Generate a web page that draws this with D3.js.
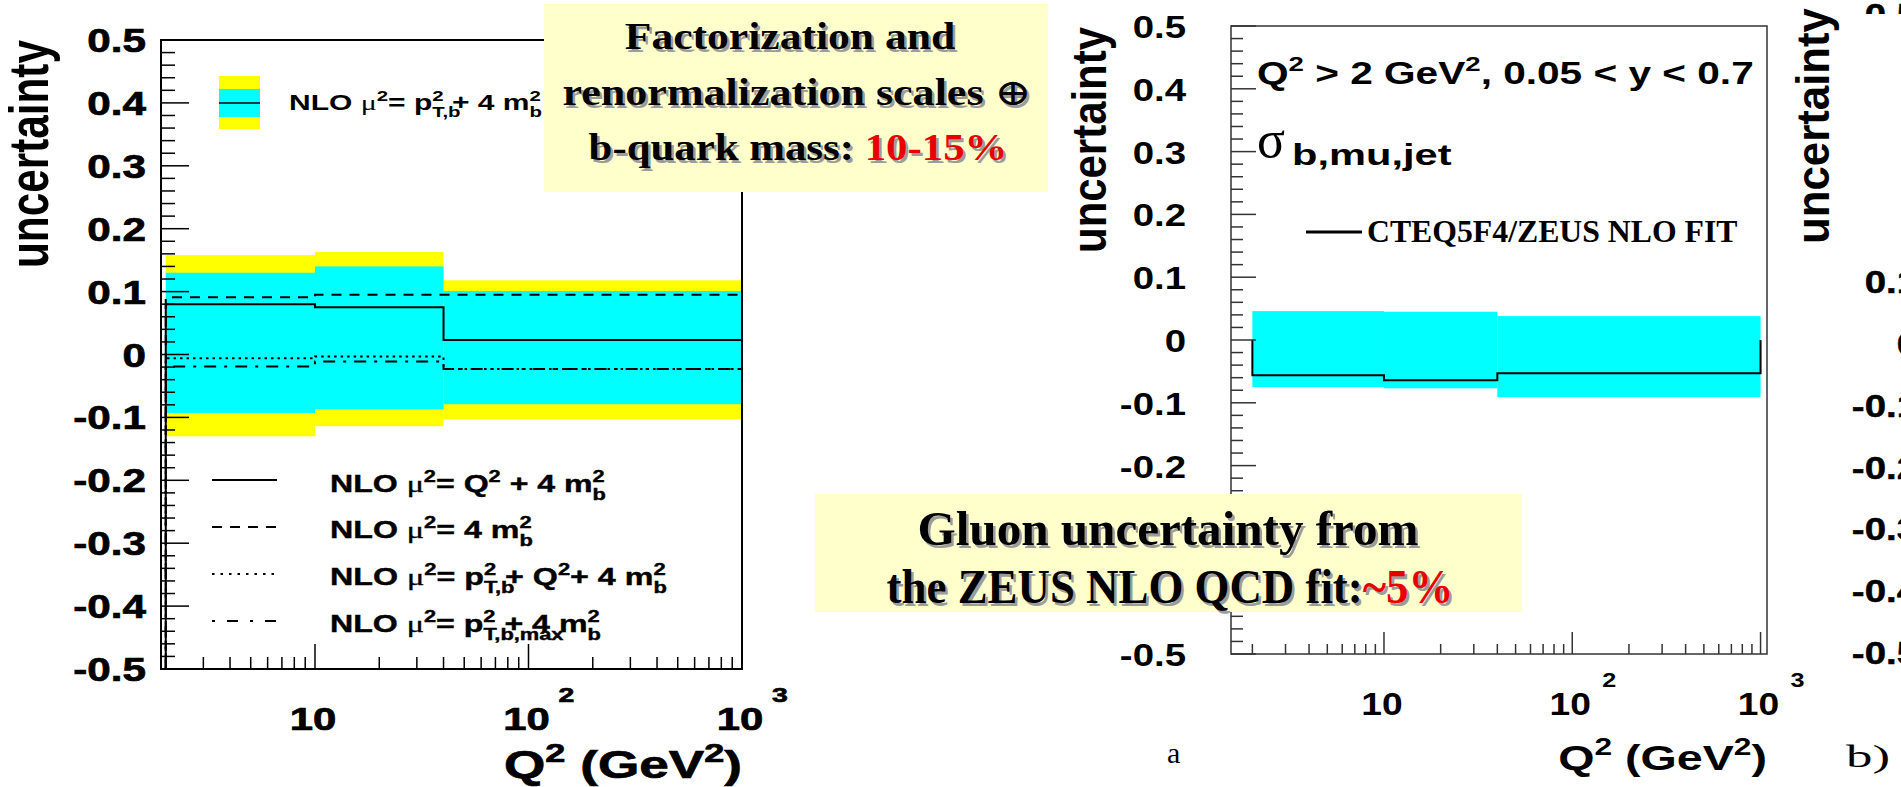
<!DOCTYPE html>
<html>
<head>
<meta charset="utf-8">
<script src="https://cdn.jsdelivr.net/npm/d3@7"></script>
<style>
html, body { margin: 0; padding: 0; background: #fff; overflow: hidden; }
</style>
</head>
<body>
<div id="chart"></div>
<script>
const W = 1901, H = 787;
const SANS = "'Liberation Sans', Arial, Helvetica, sans-serif";
const SERIF = "'Liberation Serif', 'Times New Roman', serif";
const RED = "#e80000";
const INK = "#0c0c22";

// Q^2 bin edges (GeV^2)
const binEdges = [2, 10, 40, 1000];

// panel a) scale + b-mass uncertainty
const outerUp = [0.158, 0.163, 0.118];
const outerDn = [-0.130, -0.114, -0.103];
const innerUp = [0.130, 0.140, 0.101];
const innerDn = [-0.093, -0.087, -0.079];
const muQ2 = [0.080, 0.075, 0.023];        // solid
const mu4mb = [0.091, 0.095, 0.095];       // dashed
const muPtQ2 = [-0.006, -0.003, -0.023];   // dotted
const muPtMax = [-0.019, -0.011, -0.023];  // dash-dot

// panel b) gluon uncertainty
const gluonUp = [0.046, 0.045, 0.038];
const gluonDn = [-0.075, -0.077, -0.091];
const cteqFit = [-0.056, -0.064, -0.053];

// axis labels
const yTickVals = [0.5, 0.4, 0.3, 0.2, 0.1, 0, -0.1, -0.2, -0.3, -0.4, -0.5];
const yTickLabels = ["0.5", "0.4", "0.3", "0.2", "0.1", "0", "-0.1", "-0.2", "-0.3", "-0.4", "-0.5"];
const xTickVals = [10, 100, 1000];
const xTickExp = ["", "2", "3"];
// partially visible third panel on the right edge
const cTickVals = [0.1, 0, -0.1, -0.2, -0.3, -0.4, -0.5];
const cTickLabels = ["0.1", "0", "-0.1", "-0.2", "-0.3", "-0.4", "-0.5"];

const svg = d3.select("#chart").append("svg")
    .attr("width", W)
    .attr("height", H)
    .style("display", "block")
    .style("background", "#fff");

const meas = svg.append("text").attr("visibility", "hidden");
function textW(str, size, fam, weight) {
    meas.attr("font-size", size).attr("font-family", fam).attr("font-weight", weight).text(str);
    return meas.node().getComputedTextLength();
}

// text with super/subscripts, stretched horizontally to a target width
function txt(parent, parts, o) {
    const size = o.size, fam = o.family || SANS, weight = o.weight || "bold";
    const t = parent.append("text")
        .attr("font-family", fam)
        .attr("font-weight", weight)
        .attr("font-size", size)
        .attr("fill", o.fill || "#000")
        .attr("text-anchor", o.anchor || "start");
    if (o.heavy) t.attr("stroke", o.fill || "#000").attr("stroke-width", o.heavy);
    let shift = 0;
    parts.forEach(p => {
        const s = typeof p === "string" ? { t: p } : p;
        const lvl = s.sup ? -0.42 * size : s.sub ? 0.32 * size : 0;
        const fs = (s.sup || s.sub) ? size * 0.68 : size;
        const ts = t.append("tspan").text(s.t).attr("dy", lvl - shift);
        shift = lvl;
        if (s.sup || s.sub) ts.attr("font-size", fs);
        if (s.fam) ts.attr("font-family", s.fam);
        if (s.w) ts.attr("font-weight", s.w);
        if (s.fill && !o.fill) ts.attr("fill", s.fill);
        if (s.back) ts.attr("dx", -textW(s.back, fs, s.fam || fam, s.w || weight));
    });
    if (o.len) {
        const L = t.node().getComputedTextLength();
        t.attr("font-size", size * o.len / L);
    }
    let sx = o.sx || 1;
    if (o.width) sx = o.width / t.node().getBBox().width;
    let tr = `translate(${o.x},${o.y}) scale(${sx},1)`;
    if (o.rot) tr += ` rotate(${o.rot})`;
    t.attr("transform", tr);
    return t;
}

function shadowTxt(parent, parts, o) {
    txt(parent, parts, Object.assign({}, o, { x: o.x + 2.5, y: o.y + 2.5, fill: "#9c9c9c" }));
    return txt(parent, parts, Object.assign({ fill: INK }, o, { fill: undefined }));
}

const isMajorY = v => Math.abs(v * 10 - Math.round(v * 10)) < 1e-6;
const isMajorX = v => Math.abs(Math.log10(v) - Math.round(Math.log10(v))) < 1e-9;

function drawPanel(cfg) {
    const x = d3.scaleLog().domain(cfg.xDomain).range([cfg.left, cfg.right]);
    const y = d3.scaleLinear().domain([-0.5, 0.5]).range([cfg.bottom, cfg.top]);
    const g = svg.append("g");

    cfg.bands.forEach(b => {
        g.selectAll(null)
            .data(b.up.map((u, i) => ({ x0: binEdges[i], x1: binEdges[i + 1], up: u, dn: b.dn[i] })))
            .join("rect")
            .attr("x", d => x(d.x0))
            .attr("width", d => x(d.x1) - x(d.x0))
            .attr("y", d => y(d.up))
            .attr("height", d => y(d.dn) - y(d.up))
            .attr("fill", b.color);
    });

    const line = d3.line().x(d => x(d[0])).y(d => y(d[1]));
    cfg.lines.forEach(l => {
        const pts = [[binEdges[0], cfg.base]];
        l.values.forEach((v, i) => { pts.push([binEdges[i], v]); pts.push([binEdges[i + 1], v]); });
        pts.push([binEdges[binEdges.length - 1], cfg.base]);
        g.append("path")
            .attr("d", line(pts))
            .attr("fill", "none")
            .attr("stroke", "#000")
            .attr("stroke-width", 2)
            .attr("stroke-dasharray", l.dash || null);
    });

    g.append("rect")
        .attr("x", cfg.left).attr("y", cfg.top)
        .attr("width", cfg.right - cfg.left).attr("height", cfg.bottom - cfg.top)
        .attr("fill", "none")
        .attr("stroke", cfg.frameColor)
        .attr("stroke-width", cfg.frameWidth);

    // y ticks, pointing into the frame
    const yt = d3.range(0, 51).map(i => +(-0.5 + i * 0.02).toFixed(2));
    g.selectAll(null).data(yt).join("line")
        .attr("x1", cfg.left)
        .attr("x2", d => cfg.left + (isMajorY(d) ? cfg.majTick : cfg.minTick))
        .attr("y1", d => y(d)).attr("y2", d => y(d))
        .attr("stroke", cfg.frameColor).attr("stroke-width", 1.5);

    const xt = x.ticks().filter(v => v >= cfg.xDomain[0] && v <= cfg.xDomain[1]);
    g.selectAll(null).data(xt).join("line")
        .attr("x1", d => x(d)).attr("x2", d => x(d))
        .attr("y1", cfg.bottom)
        .attr("y2", d => cfg.bottom - (isMajorX(d) ? cfg.majTick - 3 : cfg.minTick - 2))
        .attr("stroke", cfg.frameColor).attr("stroke-width", 1.5);

    yTickVals.forEach((v, i) => {
        if ((cfg.hidden || []).includes(v)) return; // sits under an annotation box
        txt(g, [yTickLabels[i]], { x: cfg.labelX, y: y(v) + 12, size: cfg.tickSize, sx: cfg.tickSx, anchor: "end", heavy: cfg.heavy });
    });

    xTickVals.forEach((v, i) => {
        txt(g, ["10"], { x: x(v) - 2, y: cfg.xLabY, size: cfg.xLabSize, sx: cfg.xLabSx, anchor: "middle", heavy: cfg.heavy });
        if (xTickExp[i]) {
            txt(g, [xTickExp[i]], { x: x(v) + 30, y: cfg.xLabY - 28, size: 21, sx: cfg.xLabSx, heavy: cfg.heavy });
        }
    });

    txt(g, ["Q", { t: "2", sup: true }, " (GeV", { t: "2", sup: true }, ")"],
        { x: cfg.right, y: cfg.titleY, size: cfg.titleSize, width: cfg.titleW, anchor: "end", heavy: cfg.heavy });

    txt(g, ["uncertainty"], { x: cfg.yTitleX, y: cfg.yTitleY, size: 42, len: cfg.yTitleLen, sx: cfg.yTitleSx, anchor: "middle", rot: -90 });

    return { x, y, g };
}

// ---------- panel a ----------
const pa = drawPanel({
    xDomain: [1.9, 1000], left: 161, right: 742, top: 40, bottom: 669,
    frameColor: "#000", frameWidth: 2, majTick: 28, minTick: 14,
    bands: [
        { up: outerUp, dn: outerDn, color: "#ffff00" },
        { up: innerUp, dn: innerDn, color: "#00ffff" }
    ],
    lines: [
        { values: mu4mb, dash: "10,8" },
        { values: muQ2 },
        { values: muPtQ2, dash: "2.5,4" },
        { values: muPtMax, dash: "12,8,3,8" }
    ],
    base: -0.5,
    labelX: 146, tickSize: 33, tickSx: 1.28, heavy: 0.7,
    xLabY: 730, xLabSize: 31, xLabSx: 1.35,
    titleY: 778, titleSize: 39, titleW: 238,
    yTitleX: 48, yTitleY: 154, yTitleLen: 228, yTitleSx: 1.3
});

// top legend of panel a: band swatch
const lg = pa.g.append("g");
lg.append("rect").attr("x", 219).attr("y", 76).attr("width", 41).attr("height", 53).attr("fill", "#ffff00");
lg.append("rect").attr("x", 219).attr("y", 89).attr("width", 41).attr("height", 28).attr("fill", "#00ffff");
lg.append("line").attr("x1", 219).attr("x2", 260).attr("y1", 103).attr("y2", 103).attr("stroke", "#000").attr("stroke-width", 1.5);

const MU = { t: "\u03bc", fam: SERIF, w: "normal" };
txt(lg, ["NLO ", MU, { t: "2", sup: true }, "= p", { t: "T,b", sub: true }, { t: "2", sup: true, back: "T,b" },
    " + 4 m", { t: "b", sub: true }, { t: "2", sup: true, back: "b" }],
    { x: 289, y: 110, size: 22, width: 253 });

// bottom legend of panel a: line styles
const legendRows = [
    { dash: null, y: 480, base: 492, w: 276,
      parts: ["NLO ", MU, { t: "2", sup: true }, "= Q", { t: "2", sup: true }, " + 4 m", { t: "b", sub: true }, { t: "2", sup: true, back: "b" }] },
    { dash: "10,8", y: 527, base: 538, w: 203,
      parts: ["NLO ", MU, { t: "2", sup: true }, "= 4 m", { t: "b", sub: true }, { t: "2", sup: true, back: "b" }] },
    { dash: "2.5,6", y: 574, base: 585, w: 337,
      parts: ["NLO ", MU, { t: "2", sup: true }, "= p", { t: "T,b", sub: true }, { t: "2", sup: true, back: "T,b" },
          " + Q", { t: "2", sup: true }, "+ 4 m", { t: "b", sub: true }, { t: "2", sup: true, back: "b" }] },
    { dash: "3,12,11,12", y: 621, base: 632, w: 271,
      parts: ["NLO ", MU, { t: "2", sup: true }, "= p", { t: "T,b,max", sub: true }, { t: "2", sup: true, back: "T,b,max" },
          " + 4 m", { t: "b", sub: true }, { t: "2", sup: true, back: "b" }] }
];
legendRows.forEach(r => {
    pa.g.append("line")
        .attr("x1", 212).attr("x2", 277).attr("y1", r.y).attr("y2", r.y)
        .attr("stroke", "#000").attr("stroke-width", 2)
        .attr("stroke-dasharray", r.dash);
    txt(pa.g, r.parts, { x: 330, y: r.base, size: 24, width: r.w, heavy: 0.4 });
});

// ---------- panel b ----------
const pb = drawPanel({
    xDomain: [1.54, 1082], left: 1231, right: 1767, top: 26, bottom: 654,
    frameColor: "#333", frameWidth: 1.5, majTick: 25, minTick: 12,
    bands: [{ up: gluonUp, dn: gluonDn, color: "#00ffff" }],
    lines: [{ values: cteqFit }],
    base: 0,
    hidden: [-0.3, -0.4],
    labelX: 1186, tickSize: 32, tickSx: 1.2,
    xLabY: 715, xLabSize: 31, xLabSx: 1.2,
    titleY: 770, titleSize: 35, titleW: 209,
    yTitleX: 1106, yTitleY: 140, yTitleLen: 226, yTitleSx: 1.15
});

txt(pb.g, ["Q", { t: "2", sup: true }, " > 2 GeV", { t: "2", sup: true }, ", 0.05 < y < 0.7"],
    { x: 1257, y: 84, size: 31, width: 497 });
txt(pb.g, [{ t: "\u03c3", fam: SERIF, w: "normal" }], { x: 1257, y: 157, size: 52 });
txt(pb.g, ["b,mu,jet"], { x: 1292, y: 165, size: 29, width: 160 });
pb.g.append("line").attr("x1", 1306).attr("x2", 1362).attr("y1", 232).attr("y2", 232)
    .attr("stroke", "#000").attr("stroke-width", 3);
txt(pb.g, ["CTEQ5F4/ZEUS NLO FIT"], { x: 1367, y: 242, size: 31, family: SERIF, width: 371 });

txt(svg, ["a"], { x: 1167, y: 763, size: 30, family: SERIF, weight: "normal" });
txt(svg, ["b)"], { x: 1846, y: 767, size: 32, family: SERIF, weight: "normal", width: 44 });

// ---------- third panel, cut by the right edge ----------
const yc = d3.scaleLinear().domain([-0.5, 0.1]).range([652, 281]);
const pc = svg.append("g");
txt(pc, ["uncertainty"], { x: 1829, y: 126, size: 38, len: 236, sx: 1.05, anchor: "middle", rot: -90 });
cTickVals.forEach((v, i) => {
    txt(pc, [cTickLabels[i]], { x: 1918, y: yc(v) + 12, size: 32, sx: 1.2, anchor: "end", heavy: 0.5 });
});
svg.append("clipPath").attr("id", "topcut")
    .append("rect").attr("x", 1820).attr("y", 0).attr("width", 90).attr("height", 14);
txt(pc.append("g").attr("clip-path", "url(#topcut)"), ["0.5"], { x: 1918, y: 26, size: 32, sx: 1.2, anchor: "end", heavy: 0.5 });

// ---------- annotation boxes ----------
const notes = svg.append("g");
notes.append("rect").attr("x", 544).attr("y", 4).attr("width", 504).attr("height", 188).attr("fill", "#ffffcc");
shadowTxt(notes, ["Factorization and"], { x: 790, y: 49, size: 37, family: SERIF, anchor: "middle", width: 331 });
shadowTxt(notes, ["renormalization scales ", { t: "\u2295", fam: "'DejaVu Serif', serif", w: "normal" }],
    { x: 797, y: 105, size: 37, family: SERIF, anchor: "middle", width: 469 });
shadowTxt(notes, ["b-quark mass: ", { t: "10-15%", fill: RED }],
    { x: 798, y: 160, size: 37, family: SERIF, anchor: "middle", width: 419 });

notes.append("rect").attr("x", 815).attr("y", 494).attr("width", 707).attr("height", 118).attr("fill", "#ffffcc");
shadowTxt(notes, ["Gluon uncertainty from"], { x: 1168, y: 545, size: 48, family: SERIF, anchor: "middle", width: 501 });
shadowTxt(notes, ["the ZEUS NLO QCD fit:", { t: "~5%", fill: RED }],
    { x: 1170, y: 603, size: 48, family: SERIF, anchor: "middle", width: 567 });

meas.remove();
</script>
</body>
</html>
